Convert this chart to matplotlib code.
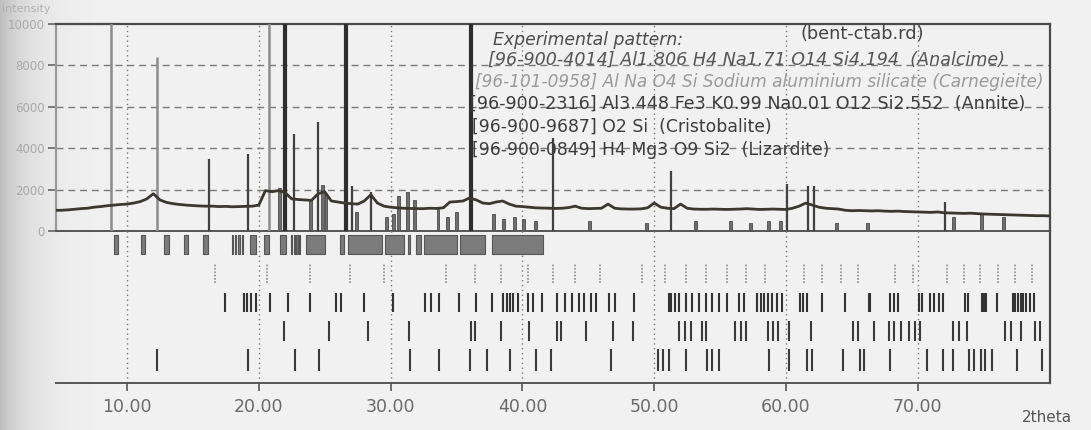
import numpy as np
import matplotlib
matplotlib.use("Agg")
import matplotlib.pyplot as plt

# ---------------- data ----------------
# experimental pattern (2theta, counts)
exp_theta = np.arange(4.5, 80.01, 0.5)
exp_counts = [
    1000, 1000, 1020, 1050, 1080, 1100, 1150, 1180, 1220, 1250,   # 4.5 - 9.0
    1280, 1300, 1350, 1420, 1550, 1800, 1500, 1380, 1320, 1280,   # 9.5 - 14.0
    1250, 1230, 1210, 1200, 1200, 1180, 1190, 1170, 1180, 1190,   # 14.5 - 19.0
    1200, 1250, 1950, 1900, 1950, 1850, 1550, 1520, 1500, 1480,   # 19.5 - 24.0
    1800, 1900, 1450, 1400, 1350, 1320, 1300, 1450, 1750, 1350,   # 24.5 - 29.0
    1200, 1150, 1120, 1100, 1090, 1080, 1080, 1100, 1090, 1120,   # 29.5 - 34.0
    1400, 1420, 1450, 1600, 1500, 1350, 1320, 1400, 1450, 1300,   # 34.5 - 39.0
    1200, 1180, 1150, 1120, 1110, 1100, 1090, 1100, 1130, 1200,   # 39.5 - 44.0
    1100, 1080, 1090, 1100, 1300, 1100, 1070, 1060, 1060, 1070,   # 44.5 - 49.0
    1120, 1350, 1150, 1100, 1080, 1300, 1100, 1060, 1050, 1050,   # 49.5 - 54.0
    1060, 1050, 1040, 1050, 1060, 1080, 1060, 1040, 1050, 1060,   # 54.5 - 59.0
    1050, 1040, 1100, 1200, 1350, 1250, 1150, 1100, 1080, 1060,   # 59.5 - 64.0
    1000, 980, 990, 980, 970, 980, 960, 950, 960, 940,            # 64.5 - 69.0
    930, 920, 910, 900, 920, 880, 870, 860, 850, 860,             # 69.5 - 74.0
    840, 820, 810, 800, 790, 780, 770, 760, 750, 740,             # 74.5 - 79.0
    740, 730,                                                     # 79.5 - 80.0
]

# reference sticks shown in the intensity panel
stick_pos = [8.8, 12.3, 16.2, 19.2, 20.8, 21.95, 22.7, 24.5, 26.65, 27.1,
             28.5, 36.1, 42.3, 51.3, 60.1, 61.7, 62.1, 72.1]
stick_int = [12000, 8400, 3500, 3700, 12000, 12000, 4700, 5250, 12000, 2150,
             1900, 12000, 4500, 2900, 2250, 2150, 2150, 1400]
stick_kind = ["light", "light", "dark", "dark", "light", "heavy", "dark", "dark", "heavy", "dark",
              "dark", "heavy", "dark", "dark", "dark", "dark", "dark", "dark"]

# minor reference bars near the baseline
minor_pos = [21.6, 23.9, 24.8, 25.1, 27.4, 29.7, 30.2, 30.6, 31.3, 31.8, 33.6, 34.3,
             35.0, 37.8, 38.6, 39.4, 40.1, 41.0, 45.1, 49.4, 53.1, 55.8, 57.3,
             58.7, 59.6, 63.8, 66.2, 72.7, 74.8, 76.5]
minor_int = [2100, 1500, 2200, 1800, 900, 700, 800, 1700, 1900, 1500, 1100, 700,
             900, 800, 600, 700, 600, 500, 500, 400, 500, 500, 400,
             500, 500, 400, 400, 700, 800, 700]

# phase stick positions (2theta)
analcime_lo = [9.0, 11.05, 12.8, 14.3, 15.8, 17.95, 18.2, 18.45, 18.7, 19.35, 20.4, 21.6,
               22.45, 22.65, 22.85, 23.05, 23.55, 26.15, 26.75, 29.55, 31.3, 31.95, 32.55,
               35.25, 37.7]
analcime_hi = [9.35, 11.4, 13.15, 14.65, 16.15, 18.05, 18.3, 18.55, 18.8, 19.8, 20.8, 22.05,
               22.55, 22.75, 22.95, 23.15, 25.0, 26.45, 29.35, 31.0, 31.5, 32.3, 35.0,
               37.2, 41.6]

carnegieite = [16.7, 20.6, 23.9, 26.9, 29.5, 34.2, 36.4, 38.4, 40.4, 42.3, 44.0, 45.9,
               49.1, 50.8, 52.4, 53.9, 55.5, 56.95, 58.4, 61.4, 62.7, 64.2, 65.5,
               68.3, 69.65, 72.2, 73.5, 74.7, 76.1, 77.4, 78.7]

annite = [17.4, 18.84, 19.11, 19.38, 19.78, 20.86, 22.2, 23.9, 25.85, 26.25, 28.0, 30.16,
          32.6, 33.1, 33.7, 35.2, 36.5, 37.7, 38.5, 38.8, 39.06, 39.3, 39.7, 40.4, 40.8,
          41.5, 42.6, 43.2, 43.8, 44.3, 44.7, 45.2, 45.6, 46.6, 47.0, 48.5,
          51.1, 51.3, 51.6, 51.9, 52.4, 52.9, 53.4, 53.9, 54.4, 54.9, 55.5, 56.4, 56.8,
          57.8, 58.1, 58.3, 58.6, 58.9, 59.3, 59.7, 61.1, 61.3, 61.6, 62.7, 64.5, 66.3,
          66.4, 67.9, 68.2, 68.5, 70.1, 70.3, 70.9, 71.2, 71.6, 71.9, 73.6, 73.8,
          74.9, 75.0, 75.2, 76.0, 77.2, 77.4, 77.6, 77.8, 78.0, 78.2, 78.5, 78.8]

cristobalite = [21.9, 25.3, 28.3, 31.4, 36.1, 36.4, 38.4, 40.5, 42.6, 42.9, 44.8, 46.9,
                48.4, 51.9, 52.3, 52.8, 53.6, 53.9, 56.1, 56.6, 57.0, 58.6, 59.0,
                59.4, 60.2, 61.9, 65.1, 65.5, 66.7, 67.8, 68.2, 68.7, 69.3, 69.8,
                70.2, 72.7, 73.1, 73.7, 76.6, 77.1, 77.8, 78.9, 79.3]

lizardite = [12.24, 19.2, 22.75, 24.6, 31.45, 33.7, 36.0, 37.3, 39.06, 41.0, 42.15,
             46.7, 50.3, 50.7, 51.1, 52.4, 54.0, 54.4, 54.9, 58.7, 60.2, 61.6, 62.0,
             64.3, 65.6, 65.9, 67.9, 70.7, 71.9, 72.7, 73.9, 74.3, 74.8, 75.1, 75.6,
             77.5, 79.4]

x_ticks = [10, 20, 30, 40, 50, 60, 70]
x_ticklabels = ["10.00", "20.00", "30.00", "40.00", "50.00", "60.00", "70.00"]
y_ticks = [0, 2000, 4000, 6000, 8000, 10000]
y_ticklabels = ["0", "2000", "4000", "6000", "8000", "10000"]

legend_lines = [
    "Experimental pattern:",
    "[96-900-4014] Al1.806 H4 Na1.71 O14 Si4.194  (Analcime)",
    "[96-101-0958] Al Na O4 Si Sodium aluminium silicate (Carnegieite)",
    "[96-900-2316] Al3.448 Fe3 K0.99 Na0.01 O12 Si2.552  (Annite)",
    "[96-900-9687] O2 Si  (Cristobalite)",
    "[96-900-0849] H4 Mg3 O9 Si2  (Lizardite)",
]
file_name = "(bent-ctab.rd)"

# ---------------- figure ----------------
W, H = 1091, 430
fig = plt.figure(figsize=(W / 100, H / 100), dpi=100)

# paper background with the darker binding edge on the left
bg = fig.add_axes([0, 0, 1, 1], zorder=-10)
cols = np.linspace(0, 1, W)
shade = 0.945 - 0.20 * np.exp(-cols * W / 28.0)
bg.imshow(shade[np.newaxis, :], aspect="auto", cmap="gray", vmin=0, vmax=1,
          extent=[0, 1, 0, 1])
bg.set_axis_off()

X0, X1 = 4.6, 80.0
left_px = 127 - (10 - X0) * 13.18
right_px = 127 + (X1 - 10) * 13.18
top_px, zero_px, axis_px = 24, 231, 383

ax = fig.add_axes([left_px / W, 1 - zero_px / H, (right_px - left_px) / W,
                   (zero_px - top_px) / H])
axb = fig.add_axes([left_px / W, 1 - axis_px / H, (right_px - left_px) / W,
                    (axis_px - zero_px) / H])
for a in (ax, axb):
    a.set_facecolor("none")
    a.set_xlim(X0, X1)

grid_c = "#7a7a7a"

# ----- intensity panel -----
ax.set_ylim(0, 10000)
for yv in y_ticks[1:-1]:
    ax.axhline(yv, color=grid_c, lw=1.0, ls=(0, (5, 3.5)), zorder=1)
for xv in x_ticks:
    ax.axvline(xv, color=grid_c, lw=1.0, ls=(0, (1, 2.5)), zorder=1)

for p, h, k in zip(stick_pos, stick_int, stick_kind):
    if k == "heavy":
        ax.vlines(p, 0, h, color="#2e2e2e", lw=3.0, zorder=3)
    elif k == "light":
        ax.vlines(p, 0, h, color="#8c8c8c", lw=1.8, zorder=3)
    else:
        ax.vlines(p, 0, h, color="#404040", lw=1.6, zorder=3)
ax.bar(minor_pos, minor_int, width=0.22, color="#6e6e6e", edgecolor="#4a4a4a",
       lw=0.6, zorder=2)

ax.plot(exp_theta, exp_counts, color="#3b3731", lw=2.0, zorder=4,
        solid_joinstyle="round")

for side in ("top", "right"):
    ax.spines[side].set_color("#4a4a4a")
    ax.spines[side].set_linewidth(1.6)
ax.spines["left"].set_color("#9a9a9a")
ax.spines["left"].set_linewidth(1.6)
ax.spines["bottom"].set_color("#555555")
ax.spines["bottom"].set_linewidth(1.4)
ax.set_xticks([])
ax.set_yticks(y_ticks)
ax.set_yticklabels(y_ticklabels)
ax.tick_params(axis="y", direction="out", length=6, width=1.2, color="#666666",
               labelsize=8.5, labelcolor="#a8a8a8", pad=2)
fig.text(2 / W, 1 - 9 / H, "intensity", fontsize=8, color="#b0b0b0",
         ha="left", va="center")

# phase legend
lx = [37.8, 37.4, 36.4, 36.0, 36.2, 36.2]
ly = [9230, 8260, 7200, 6140, 5020, 3910]
lstyle = ["italic", "italic", "italic", "normal", "normal", "normal"]
lcol = ["#4c4c4c", "#555555", "#9a9a9a", "#3c3c3c", "#3c3c3c", "#3c3c3c"]
lsize = [12.4, 12.6, 12.2, 12.6, 12.4, 12.4]
for x_, y_, s_, c_, t_, fs in zip(lx, ly, lstyle, lcol, legend_lines, lsize):
    ax.text(x_, y_, t_, fontsize=fs, style=s_, color=c_, ha="left", va="center",
            zorder=6)
ax.text(61.1, 9520, file_name, fontsize=12.8, color="#444444", ha="left",
        va="center", zorder=6)

# ----- phase stick rows -----
axb.set_ylim(0.21, 5.47)
for xv in x_ticks:
    axb.axvline(xv, color=grid_c, lw=1.0, ls=(0, (1, 2.5)), zorder=1)
half = 0.34
row_y = {"analcime": 5, "carnegieite": 4, "annite": 3, "cristobalite": 2, "lizardite": 1}

ya = row_y["analcime"]
axb.broken_barh([(lo, hi - lo) for lo, hi in zip(analcime_lo, analcime_hi)],
                (ya - half, 2 * half), facecolors="#7b7b7b", edgecolors="#555555",
                linewidth=0.8, zorder=3)
yc = row_y["carnegieite"]
axb.vlines(carnegieite, yc - half, yc + half, color="#8a8a8a", lw=1.2,
           linestyles=(0, (1, 1)), zorder=3)
yn = row_y["annite"]
axb.vlines(annite, yn - half, yn + half, color="#333333", lw=1.5, zorder=3)
yr = row_y["cristobalite"]
axb.vlines(cristobalite, yr - half, yr + half, color="#3a3a3a", lw=1.5, zorder=3)
yl = row_y["lizardite"]
axb.vlines(lizardite, yl - 0.38, yl + 0.38, color="#3a3a3a", lw=1.5, zorder=3)

for side in ("top", "left"):
    axb.spines[side].set_visible(False)
axb.spines["right"].set_color("#4a4a4a")
axb.spines["right"].set_linewidth(1.6)
axb.spines["bottom"].set_color("#555555")
axb.spines["bottom"].set_linewidth(1.4)
axb.set_yticks([])
axb.set_xticks(x_ticks)
axb.set_xticklabels(x_ticklabels)
axb.tick_params(axis="x", direction="out", length=6, width=1.2, color="#555555",
                labelsize=12.5, labelcolor="#6a6a6a", pad=5)
fig.text(1072 / W, 1 - 418 / H, "2theta", fontsize=11, color="#555555",
         ha="right", va="center")

fig.savefig("out.png", dpi=100, facecolor=fig.get_facecolor())
